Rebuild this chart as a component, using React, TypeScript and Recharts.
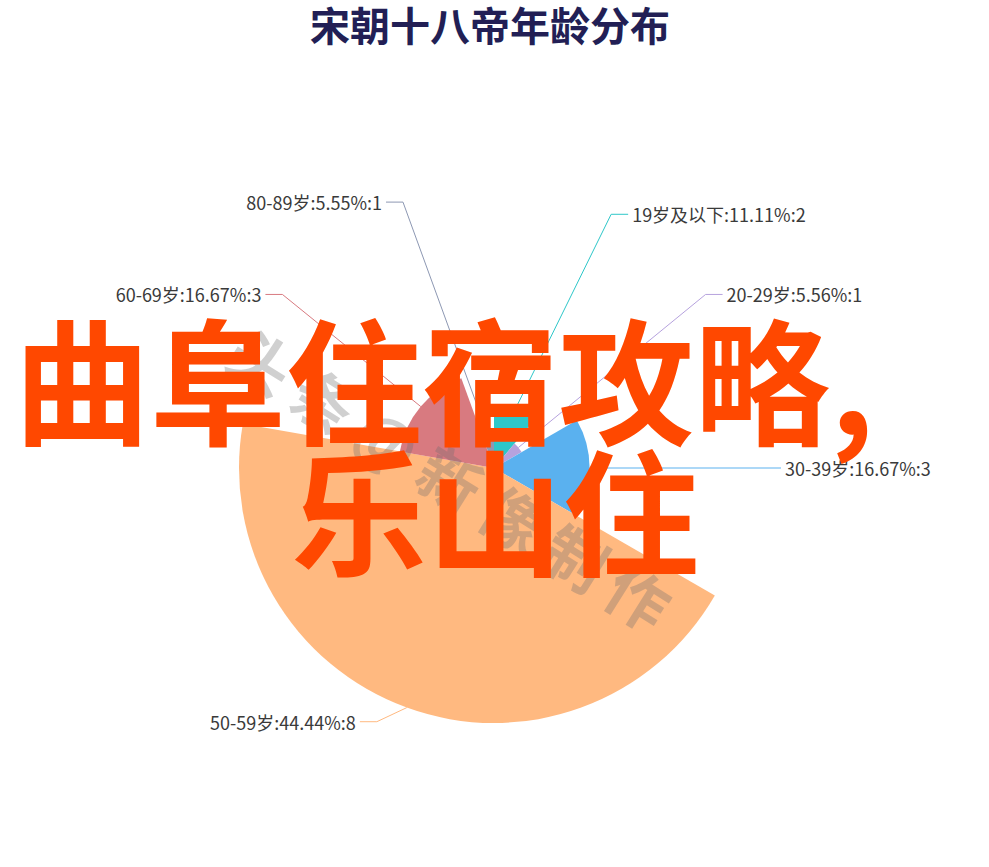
import React from 'react';
import { PieChart, Pie, Cell } from 'recharts';

// ---- data ----
const categories = ['19岁及以下', '20-29岁', '30-39岁', '50-59岁', '60-69岁', '80-89岁'];
const counts = [2, 1, 3, 8, 3, 1];
const colors = ['#2ec7c9', '#b6a2de', '#5ab1ef', '#ffb980', '#d87a80', '#8d98b3'];
const title = '宋朝十八帝年龄分布';
const overlayLine1 = '曲阜住宿攻略,';
const overlayLine2 = '乐山住';
const watermark = '头条@新像制作';

// percentages with 2-decimal precision using the largest-remainder method
function percentsWithPrecision(vals: number[], precision: number): string[] {
  const sum = vals.reduce((a, b) => a + b, 0);
  const digits = Math.pow(10, precision);
  const target = 100 * digits;
  const raw = vals.map((v) => (v / sum) * target);
  const seats = raw.map((r) => Math.floor(r));
  let current = seats.reduce((a, b) => a + b, 0);
  const remainders = raw.map((r, i) => r - seats[i]);
  while (current < target) {
    let best = -1;
    let bestIdx = 0;
    for (let i = 0; i < remainders.length; i++) {
      if (remainders[i] > best) {
        best = remainders[i];
        bestIdx = i;
      }
    }
    seats[bestIdx] += 1;
    remainders[bestIdx] = -1;
    current += 1;
  }
  return seats.map((s) => (s / digits).toFixed(precision));
}

const percents = percentsWithPrecision(counts, 2);
const data = categories.map((name, i) => ({ name, value: counts[i], pct: percents[i] }));

// ---- layout ----
const W = 989;
const H = 867;
const CX = 494;
const CY = 468;
const R = 255;
const LINE_LEN = 15;
const LINE_LEN2 = 17;
const LABEL_GAP = 4;
const maxVal = Math.max(...counts);
const radiusOf = (v: number) => (v / maxVal) * R;

const makeLabel = (target: number) => (props: any) => {
  if (props.index !== target) return null;
  const { cx, cy, midAngle, outerRadius, payload } = props;
  const rad = (-midAngle * Math.PI) / 180;
  const ux = Math.cos(rad);
  const uy = Math.sin(rad);
  const x1 = cx + outerRadius * ux;
  const y1 = cy + outerRadius * uy;
  const L = R + LINE_LEN;
  const y2 = cy + L * uy;
  const dir = ux < -1e-6 ? -1 : 1;
  const dy = Math.abs(y2 - cy);
  const K = L + LINE_LEN2;
  const dx = dy < L ? Math.sqrt(K * K - dy * dy) : Math.abs(L * ux) + LINE_LEN2;
  const x3 = cx + dir * dx;
  const x2 = x3 - dir * LINE_LEN2;
  const tx = x3 + dir * LABEL_GAP;
  const item = payload && payload.payload ? payload.payload : payload;
  const name = item?.name ?? data[target].name;
  const pct = item?.pct ?? data[target].pct;
  const value = item?.value ?? data[target].value;
  return (
    <g>
      <polyline
        points={`${x1},${y1} ${x2},${y2} ${x3},${y2}`}
        fill="none"
        stroke={colors[target]}
        strokeWidth={1}
      />
      <text
        x={tx}
        y={y2}
        textAnchor={dir > 0 ? 'start' : 'end'}
        dominantBaseline="central"
        fill="#3a3a3a"
        fontSize={18}
        fontFamily='"Noto Sans CJK SC", "Noto Sans", sans-serif'
      >
        {`${name}:${pct}%:${value}`}
      </text>
    </g>
  );
};

const WM_ANGLE = 32;
const WM_SIZE = 62;

const overlayStyle: React.CSSProperties = {
  position: 'absolute',
  fontFamily: '"Noto Sans CJK SC", sans-serif',
  fontWeight: 700,
  fontSize: 136,
  lineHeight: '136px',
  color: '#ff4800',
  whiteSpace: 'nowrap',
};

export default function App() {
  return (
    <div
      style={{
        position: 'absolute',
        left: 0,
        top: 0,
        width: W,
        height: H,
        background: '#ffffff',
        overflow: 'hidden',
      }}
    >
      <div
        style={{
          position: 'absolute',
          left: 0,
          top: 3,
          width: 980,
          textAlign: 'center',
          fontFamily: '"Noto Sans CJK SC", sans-serif',
          fontWeight: 700,
          fontSize: 40,
          lineHeight: '42px',
          color: '#221f55',
        }}
      >
        {title}
      </div>
      <div style={{ position: 'absolute', left: 0, top: 0 }}>
        <PieChart width={W} height={H} margin={{ top: 0, right: 0, bottom: 0, left: 0 }}>
          {data.map((d, i) => (
            <Pie
              key={d.name}
              data={data}
              dataKey="value"
              nameKey="name"
              cx={CX}
              cy={CY}
              innerRadius={0}
              outerRadius={radiusOf(d.value)}
              startAngle={90}
              endAngle={-270}
              isAnimationActive={false}
              labelLine={false}
              label={makeLabel(i)}
              stroke="none"
            >
              {data.map((_, j) => (
                <Cell key={j} fill={j === i ? colors[j] : 'none'} stroke="none" />
              ))}
            </Pie>
          ))}
        </PieChart>
      </div>
      <svg
        width={W}
        height={H}
        style={{ position: 'absolute', left: 0, top: 0, pointerEvents: 'none' }}
      >
        <text
          x={222}
          y={366}
          transform={`rotate(${WM_ANGLE}, 222, 366)`}
          fontSize={WM_SIZE}
          fontWeight={700}
          letterSpacing={12}
          fill="rgba(110,110,110,0.32)"
          fontFamily='"Noto Sans CJK SC", sans-serif'
        >
          {watermark}
        </text>
      </svg>
      <div style={{ ...overlayStyle, left: 14, top: 308 }}>{overlayLine1}</div>
      <div style={{ ...overlayStyle, left: 291, top: 439 }}>{overlayLine2}</div>
    </div>
  );
}
